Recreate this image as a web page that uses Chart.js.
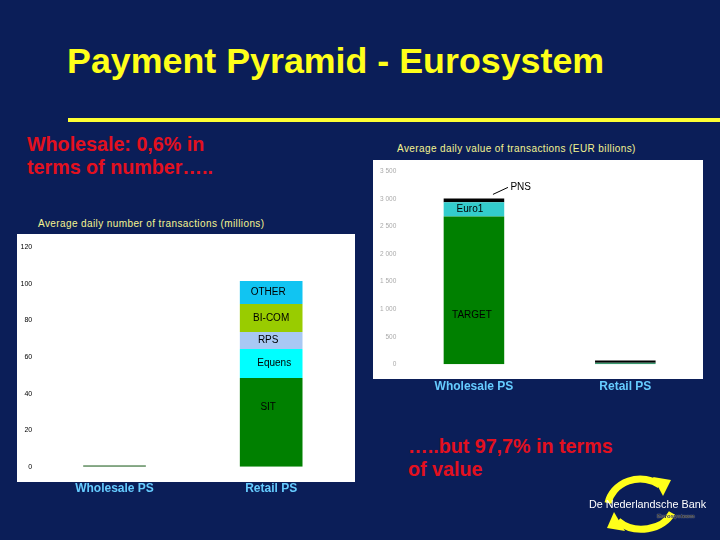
<!DOCTYPE html>
<html><head><meta charset="utf-8">
<script src="https://cdn.jsdelivr.net/npm/chart.js@4"></script>
<style>
body{margin:0;background:#0b1e58;width:720px;height:540px;overflow:hidden;position:relative;font-family:"Liberation Sans",Arial,sans-serif}
.abs{position:absolute;white-space:nowrap}
.red{color:#e3101e;font-weight:bold;font-size:19.7px;line-height:22.5px}
.ctitle{color:#f4f490;font-size:10px;letter-spacing:0.4px;line-height:12px}
canvas{position:absolute}
</style></head><body>
<div class="abs" style="left:67px;top:42px;font-size:35.8px;line-height:39px;font-weight:bold;color:#ffff1a">Payment Pyramid - Eurosystem</div>
<div class="abs" style="left:68px;top:118px;width:652px;height:4px;background:#ffff33"></div>
<div class="abs red" style="left:27px;top:133px">Wholesale: 0,6% in<br>terms of number…..</div>
<div class="abs red" style="left:408px;top:435px">…..but 97,7% in terms<br>of value</div>
<div class="abs ctitle" style="left:38px;top:218px">Average daily number of transactions (millions)</div>
<div class="abs ctitle" style="left:397px;top:143px">Average daily value of transactions (EUR billions)</div>

<div class="abs" style="left:17px;top:234px;width:338px;height:248px;background:#fff"></div>
<div class="abs" style="left:373px;top:160px;width:330px;height:219px;background:#fff"></div>
<canvas id="c1" width="338" height="270" style="left:17px;top:234px"></canvas>
<canvas id="c2" width="330" height="240" style="left:373px;top:160px"></canvas>

<svg class="abs" style="left:0;top:0" width="720" height="540">
  <path d="M608 503 A33 30 0 0 1 660 485" fill="none" stroke="#ffff1a" stroke-width="7"/>
  <polygon points="653,477 671,480 663,496" fill="#ffff1a"/>
  <path d="M672 513 A33 27 0 0 1 618 521" fill="none" stroke="#ffff1a" stroke-width="7"/>
  <polygon points="625,531 607,528 614,512" fill="#ffff1a"/>
</svg>
<div class="abs" style="left:589px;top:498px;font-size:10.8px;line-height:12px;color:#fff">De Nederlandsche Bank</div>
<div class="abs" style="left:657px;top:513px;font-size:6px;line-height:7px;color:#222;font-weight:bold;text-shadow:0 0 1px #fff">Eurosysteem</div>

<script>
// ---- data: average daily number of transactions (millions)
const numCategories = ['Wholesale PS', 'Retail PS'];
const numWholesale = [0.6, 0];
const numSIT = [0, 48.5];
const numEquens = [0, 15.9];
const numRPS = [0, 9.3];
const numBICOM = [0, 15.3];
const numOTHER = [0, 12.6];
const numTickLabels = ['0', '20', '40', '60', '80', '100', '120'];

// ---- data: average daily value of transactions (EUR billions)
const valCategories = ['Wholesale PS', 'Retail PS'];
const valTARGET = [2680, 0];
const valEuro1 = [260, 0];
const valPNS = [70, 0];
const valRetailA = [0, 28];
const valRetailB = [0, 42];
const valTickLabels = ['0', '500', '1 000', '1 500', '2 000', '2 500', '3 000', '3 500'];

const segLabels = {
  id: 'segLabels',
  afterDatasetsDraw(chart, args, opts) {
    const ctx = chart.ctx;
    const ys = chart.scales.y;
    (opts.items || []).forEach(it => {
      const el = chart.getDatasetMeta(it.ds).data[it.idx];
      const y = it.atValue != null ? ys.getPixelForValue(it.atValue) : (el.y + el.base) / 2;
      ctx.save();
      ctx.font = '10px "Liberation Sans Narrow", "Liberation Sans", Arial, sans-serif';
      ctx.fillStyle = '#000';
      ctx.textAlign = 'center';
      ctx.textBaseline = 'middle';
      ctx.fillText(chart.data.datasets[it.ds].label, el.x + (it.dx || 0), y);
      ctx.restore();
    });
    if (opts.pointer) {
      const p = opts.pointer;
      const el = chart.getDatasetMeta(p.ds).data[p.idx];
      ctx.save();
      ctx.strokeStyle = '#000';
      ctx.lineWidth = 1;
      ctx.beginPath();
      ctx.moveTo(el.x + 19, el.y - 4);
      ctx.lineTo(el.x + 34, el.y - 11);
      ctx.stroke();
      ctx.font = '10px "Liberation Sans Narrow", "Liberation Sans", Arial, sans-serif';
      ctx.fillStyle = '#000';
      ctx.textAlign = 'left';
      ctx.textBaseline = 'middle';
      ctx.fillText(chart.data.datasets[p.ds].label, el.x + 36.5, el.y - 11);
      ctx.restore();
    }
  }
};

function ds(label, data, color) {
  return { label, data, backgroundColor: color, borderWidth: 0, categoryPercentage: 1, barPercentage: 0.4 };
}

new Chart(document.getElementById('c1'), {
  type: 'bar',
  data: {
    labels: numCategories,
    datasets: [
      ds('Wholesale', numWholesale, '#1f5f1f'),
      ds('SIT', numSIT, '#008000'),
      ds('Equens', numEquens, '#00ffff'),
      ds('RPS', numRPS, '#a8c8f4'),
      ds('BI-COM', numBICOM, '#99cc00'),
      ds('OTHER', numOTHER, '#11c4f2')
    ]
  },
  plugins: [segLabels],
  options: {
    responsive: false, animation: false, devicePixelRatio: 1,
    layout: { padding: { top: 13.3, right: 5.5, left: 0, bottom: 0 } },
    plugins: {
      legend: { display: false }, tooltip: { enabled: false },
      segLabels: { items: [
        { ds: 1, idx: 1, atValue: 32.7, dx: -3 },
        { ds: 2, idx: 1, dx: 3 },
        { ds: 3, idx: 1, dx: -3 },
        { ds: 4, idx: 1 },
        { ds: 5, idx: 1, dx: -3 }
      ] }
    },
    scales: {
      x: {
        stacked: true,
        grid: { display: false, drawTicks: false }, border: { display: false },
        ticks: { color: '#66ccff', font: { family: 'Liberation Sans', size: 12, weight: 'bold' }, padding: 15, maxRotation: 0 },
        afterFit(s) { s.height = 37.3; }
      },
      y: {
        stacked: true, min: 0, max: 120,
        grid: { display: false, drawTicks: false }, border: { display: false },
        ticks: { stepSize: 20, color: '#000', padding: 4, font: { family: 'Liberation Sans', size: 7 },
          callback: (v, i) => numTickLabels[i] },
        afterFit(s) { s.width = 19.2; }
      }
    }
  }
});

new Chart(document.getElementById('c2'), {
  type: 'bar',
  data: {
    labels: valCategories,
    datasets: [
      ds('TARGET', valTARGET, '#008000'),
      ds('Euro1', valEuro1, '#33cccc'),
      ds('PNS', valPNS, '#000000'),
      ds('Retail A', valRetailA, '#3a9a70'),
      ds('Retail B', valRetailB, '#000000')
    ]
  },
  plugins: [segLabels],
  options: {
    responsive: false, animation: false, devicePixelRatio: 1,
    layout: { padding: { top: 11.4, right: 2, left: 0, bottom: 0 } },
    plugins: {
      legend: { display: false }, tooltip: { enabled: false },
      segLabels: {
        items: [ { ds: 0, idx: 0, atValue: 895, dx: -2 }, { ds: 1, idx: 0, dx: -4 } ],
        pointer: { ds: 2, idx: 0 }
      }
    },
    scales: {
      x: {
        stacked: true,
        grid: { display: false, drawTicks: false }, border: { display: false },
        ticks: { color: '#66ccff', font: { family: 'Liberation Sans', size: 12, weight: 'bold' }, padding: 15.5, maxRotation: 0 },
        afterFit(s) { s.height = 35.7; }
      },
      y: {
        stacked: true, min: 0, max: 3500,
        grid: { display: false, drawTicks: false }, border: { display: false },
        ticks: { stepSize: 500, color: '#aaaaaa', padding: 2, font: { family: 'Liberation Sans', size: 6.5 },
          callback: (v, i) => valTickLabels[i] },
        afterFit(s) { s.width = 25.25; }
      }
    }
  }
});
</script>
</body></html>
